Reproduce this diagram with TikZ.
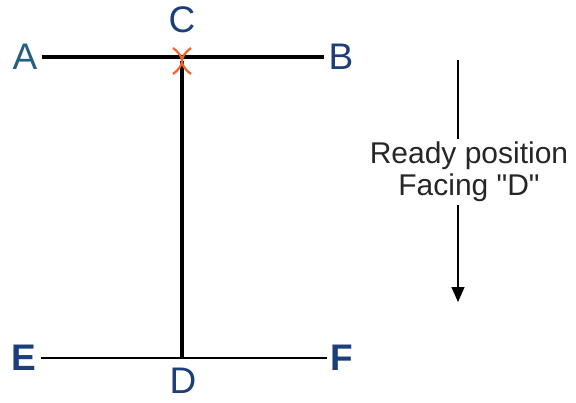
\documentclass[tikz,border=0pt]{standalone}
\usepackage{fontspec}
\setmainfont{Liberation Sans}
\usetikzlibrary{arrows.meta,positioning,calc}
\definecolor{ptBlue}{RGB}{28,62,122}
\definecolor{ptTeal}{RGB}{34,96,128}
\definecolor{ptOrange}{RGB}{238,102,36}
\tikzset{
  pt/.style={inner sep=4pt, font=\fontsize{37}{40}\selectfont, text=ptBlue},
  ptbold/.style={pt, font=\fontsize{37}{40}\selectfont\bfseries},
  thickline/.style={line width=4pt, draw=black},
  thinline/.style={line width=2pt, draw=black},
  facearrow/.style={-{Triangle[width=13pt,length=15pt]}, line width=1.3pt, draw=black},
  note/.style={align=center, font=\fontsize{30}{32}\selectfont, text=black!85, inner sep=3pt}
}
\begin{document}
\begin{tikzpicture}[x=1pt, y=-1pt]
\useasboundingbox (0,0) rectangle (576,402);
\node[pt, text=ptTeal] (A) at (25,57) {A};
\node[pt] (B) at (341,57) {B};
\node[pt] (C) at (182,20) {C};
\node[ptbold] (E) at (24,358) {E};
\node[ptbold] (F) at (342,358) {F};
\node[pt, inner sep=1pt] (D) at (183,381) {D};
\coordinate (cross) at (182,61);
\coordinate (foot) at (182,358);
\draw[thickline] (A) -- (B);
\draw[thinline] (E) -- (F);
\draw[thickline] (cross) -- (foot);
% orange mark at C
\draw[ptOrange, line width=2.2pt]
  ($(cross)+(-9,-13)$) .. controls ($(cross)+(3,-4)$) and ($(cross)+(3,4)$) .. ($(cross)+(-9,13)$)
  ($(cross)+(9,-13)$) .. controls ($(cross)+(-3,-4)$) and ($(cross)+(-3,4)$) .. ($(cross)+(9,13)$);
\node[note] (face) at (469,172) {Ready position\\Facing \textquotedbl D\textquotedbl};
\coordinate (top) at (458,60);
\coordinate (tip) at (458,302);
\draw[line width=1.3pt] (top) -- (top |- face.north);
\draw[facearrow] (face.south -| tip) -- (tip);
\end{tikzpicture}
\end{document}
